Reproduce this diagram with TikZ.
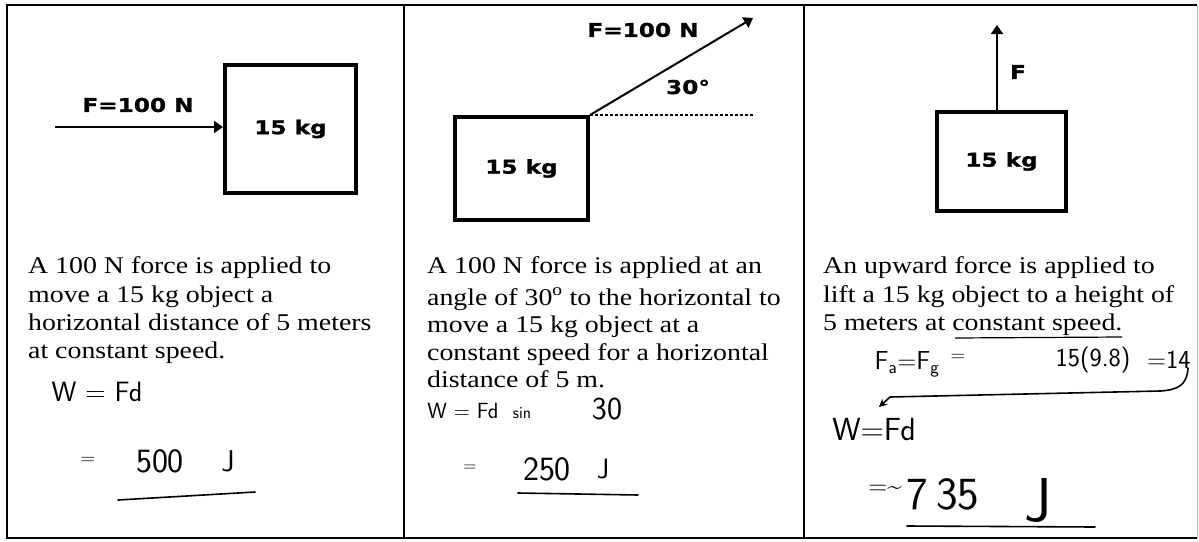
\documentclass[tikz,border=0pt]{standalone}
\usepackage{fontspec}
\usetikzlibrary{arrows.meta}
\newfontfamily\pixfont{DejaVu Sans}[FakeStretch=1.22,FakeBold=1.2]
\newfontfamily\serf{Liberation Serif}[FakeStretch=1.16]
\tikzset{
  body/.style={anchor=base west,inner sep=0pt,font=\serf\fontsize{24}{28}\selectfont},
  pix/.style={inner sep=0pt,font=\pixfont\bfseries\fontsize{19}{22}\selectfont},
  massbox/.style={draw,line width=4pt,inner sep=0pt,font=\pixfont\bfseries\fontsize{19}{22}\selectfont},
  hand/.style={inner sep=0pt,font=\sffamily\fontsize{#1}{#1}\selectfont},
  hline/.style={line width=1.6pt,line cap=round},
  force/.style={line width=2pt,-{Triangle[length=9pt,width=12pt]}},
  tab/.style={line width=1.6pt}
}
\begin{document}
\begin{tikzpicture}[x=1pt,y=-1pt]
\useasboundingbox (0,0) rectangle (1199,541);
\fill[white] (0,0) rectangle (1199,541);
% table
\draw[tab] (1197,5) -- (7,5) -- (7,538) -- (1197,538);
\draw[gray!60,line width=1pt] (1197,5) -- (1197,538);
\draw[tab] (404,5) -- (404,538);
\draw[tab] (804,5) -- (804,538);

% ---- panel 1
\node[massbox,minimum width=131pt,minimum height=128pt] (b1) at (290.5,129) {15 kg};
\coordinate (a1s) at (55,127);
\draw[force] (a1s) -- (a1s -| b1.west);
\node[pix] (f1) at (138,105) {F=100 N};
\node[body] (p1a) at (28,273) {A 100 N force is applied to};
\node[body] (p1b) at (28,302) {move a 15 kg object a};
\node[body] (p1c) at (28,330) {horizontal distance of 5 meters};
\node[body] (p1d) at (28,358) {at constant speed.};
\node[hand=28] (w1) at (97,392) {W = Fd};
\node[hand=20] (e1) at (88,461) {=};
\node[hand=34] (n1) at (160,461) {500};
\node[hand=30] (j1) at (228,461) {J};
\draw[hline] (118,500) -- (255,492);

% ---- panel 2
\node[massbox,minimum width=133pt,minimum height=103pt] (b2) at (521.5,168.5) {15 kg};
\coordinate (a2e) at (753,18);
\coordinate (d2) at (755,115);
\draw[force] (b2.north east) -- (a2e);
\draw[line width=2pt,dash pattern=on 3pt off 2pt] (b2.north east) -- (d2);
\node[pix] (f2) at (643,30) {F=100 N};
\node[pix] (ang) at (688,87) {30°};
\node[body] (p2a) at (427,273) {A 100 N force is applied at an};
\node[body] (p2b) at (427,305) {angle of 30\textsuperscript{o} to the horizontal to};
\node[body] (p2c) at (427,332) {move a 15 kg object at a};
\node[body] (p2d) at (427,360) {constant speed for a horizontal};
\node[body] (p2e) at (427,387) {distance of 5 m.};
\node[hand=22] (w2) at (463,411) {W = Fd};
\node[hand=17] (s2) at (522,413) {sin};
\node[hand=32] (t2) at (607,409) {30};
\node[hand=18] (e2) at (470,468) {=};
\node[hand=34] (n2) at (547,469) {250};
\node[hand=28] (j2) at (603,469) {J};
\draw[hline] (518,493) -- (638,495);

% ---- panel 3
\node[massbox,minimum width=129pt,minimum height=99pt] (b3) at (1001.5,161.5) {15 kg};
\coordinate (a3e) at (997,25);
\draw[force] (b3.north -| a3e) -- (a3e);
\node[pix] (f3) at (1018,72) {F};
\node[body] (p3a) at (823,273) {An upward force is applied to};
\node[body] (p3b) at (823,302) {lift a 15 kg object to a height of};
\node[body] (p3c) at (823,330) {5 meters at constant speed.};
\draw[line width=1.2pt] (955,338) -- (1122,337);
\node[hand=26] (fa) at (907,364) {F\textsubscript{a}=F\textsubscript{g}};
\node[hand=20] (e3) at (958,358) {=};
\node[hand=26] (n3) at (1093,360) {15(9.8)};
\node[hand=26,anchor=west] (r3) at (1147,360) {=14};
\coordinate (c1) at (1188,368);
\coordinate (c2) at (879,407);
\draw[hline,-{Stealth[length=8pt,width=8pt]}] (c1) .. controls (1187,385) and (1178,390) .. (1160,391) -- (890,397) -- (c2);
\node[hand=32] (w3) at (874,430) {W=Fd};
\node[hand=26] (e3b) at (885,490) {=\textasciitilde};
\node[hand=46] (n3b) at (943,494) {7\hspace{8pt}35};
\node[hand=62] (j3) at (1038,500) {J};
\draw[hline] (907,526) -- (1095,527);
\end{tikzpicture}
\end{document}
